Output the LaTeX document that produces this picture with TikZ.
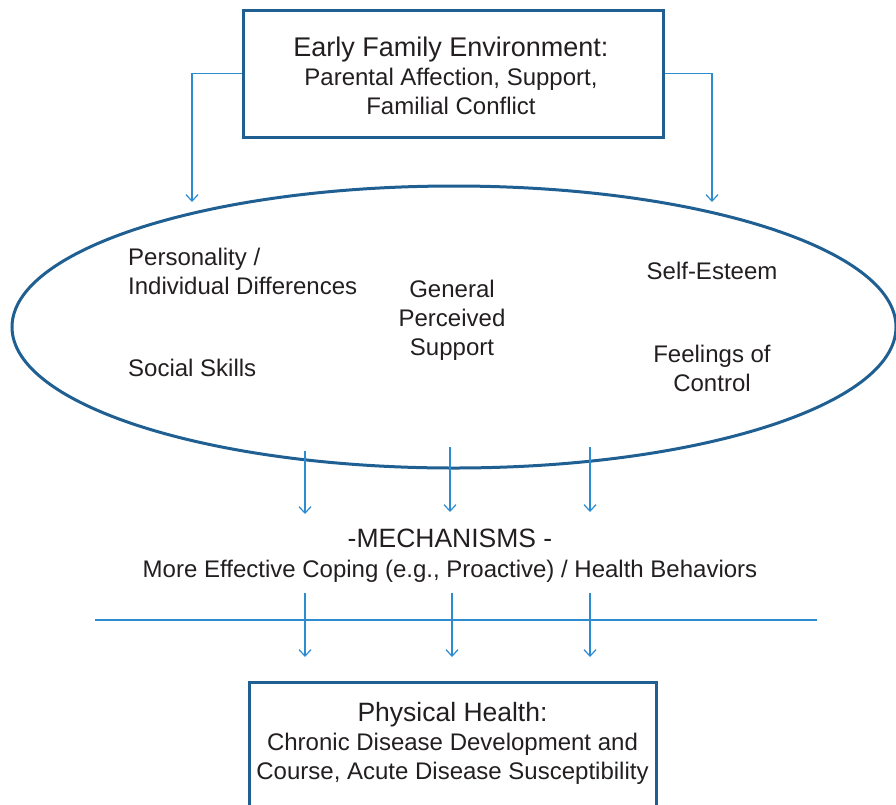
\documentclass[tikz,border=0pt]{standalone}
\usepackage{fontspec}
\setmainfont{Liberation Sans}
\usetikzlibrary{arrows.meta,shapes.geometric}
\definecolor{darkblue}{HTML}{1F5F92}
\definecolor{lightblue}{HTML}{2D8BD0}
\definecolor{txt}{HTML}{231F20}
\tikzset{
  boxline/.style={draw=darkblue, line width=3pt},
  arr/.style={draw=lightblue, line width=1.2pt, -{Straight Barb[length=6.5pt,width=12pt,line width=1.2pt]}},
  plain/.style={draw=lightblue, line width=1.2pt},
  lbl/.style={inner sep=0pt, text=txt, font=\fontsize{24}{29}\selectfont},
}
\begin{document}
\begin{tikzpicture}[x=1pt,y=-1pt]
\useasboundingbox (0,0) rectangle (896,804);
% top box
\node[boxline, minimum width=420pt, minimum height=127pt, inner sep=0pt] (fam) at (453,73.5) {};
\node[lbl, align=center] (famtxt) at (451,76) {{\fontsize{27}{30}\selectfont Early Family Environment:}\\Parental Affection, Support,\\Familial Conflict};
% ellipse
\node[ellipse, boxline, minimum width=884pt, minimum height=282pt, inner sep=0pt] (ell) at (454,327) {};
\coordinate (tl) at (192,202);
\coordinate (tr) at (712,202);
\draw[arr] (fam.west) -| (tl);
\draw[arr] (fam.east) -| (tr);
% ellipse texts
\node[lbl, align=left, anchor=west] (pers) at (128,271.5) {Personality /\\Individual Differences};
\node[lbl, anchor=west] (soc) at (128,368) {Social Skills};
\node[lbl, align=center] (gen) at (452,320) {General\\Perceived\\Support};
\node[lbl] (self) at (712,271) {Self-Esteem};
\node[lbl, align=center] (feel) at (712,368.5) {Feelings of\\Control};
% upper arrows
\coordinate (ua1) at (305,451); \coordinate (ub1) at (305,514);
\coordinate (ua2) at (450,447); \coordinate (ub2) at (450,512);
\coordinate (ua3) at (590,447); \coordinate (ub3) at (590,512);
\draw[arr] (ua1) -- (ub1);
\draw[arr] (ua2) -- (ub2);
\draw[arr] (ua3) -- (ub3);
% mechanisms
\node[lbl, align=center, font=\fontsize{24}{30}\selectfont] (mech) at (450,556) {{\fontsize{26.5}{30}\selectfont -MECHANISMS -}\\More Effective Coping (e.g., Proactive) / Health Behaviors};
% horizontal line
\coordinate (hl) at (95,620); \coordinate (hr) at (817,620);
\draw[plain] (hl) -- (hr);
% lower arrows
\coordinate (la1) at (305,593); \coordinate (lb1) at (305,657);
\coordinate (la2) at (452,593); \coordinate (lb2) at (452,657);
\coordinate (la3) at (590,593); \coordinate (lb3) at (590,657);
\draw[arr] (la1) -- (lb1);
\draw[arr] (la2) -- (lb2);
\draw[arr] (la3) -- (lb3);
% bottom box
\coordinate (bb1) at (249,682); \coordinate (bb2) at (656,840);
\draw[boxline] (bb1) rectangle (bb2);
\node[lbl, align=center] (phys) at (452.5,743) {{\fontsize{26.5}{30}\selectfont Physical Health:}\\Chronic Disease Development and\\Course, Acute Disease Susceptibility};
\end{tikzpicture}
\end{document}
